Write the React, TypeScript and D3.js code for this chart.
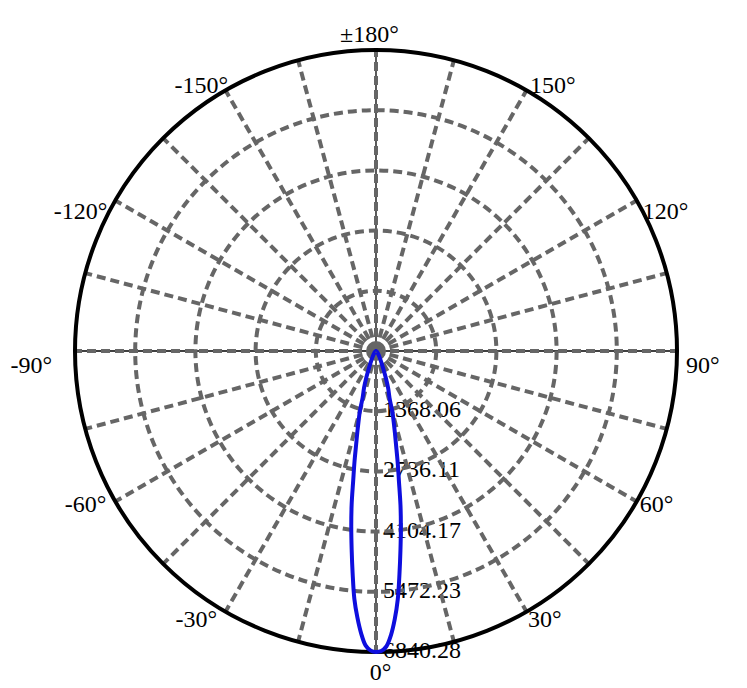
import { useEffect, useRef } from "react";
import * as d3 from "d3";

// ring values (cd) shown along the 0° spoke
const ringValues = [1368.06, 2736.11, 4104.17, 5472.23, 6840.28];
const ringLabels = ["1368.06", "2736.11", "4104.17", "5472.23", "6840.28"];

// angle ticks (0° at the bottom, positive to the right)
const angleTicks = [0, 30, 60, 90, 120, 150, 180, -150, -120, -90, -60, -30];
const angleTickLabels = ["0°", "30°", "60°", "90°", "120°", "150°", "±180°", "-150°", "-120°", "-90°", "-60°", "-30°"];
const spokeAngles = [0, 15, 30, 45, 60, 75, 90, 105, 120, 135, 150, 165, 180, 195, 210, 225, 240, 255, 270, 285, 300, 315, 330, 345];

// measured intensity curve
const curveAngles = [0, 1, 2, 3, 4, 5, 6, 7, 8, 9, 10, 11, 12, 13, 14, 15, 16, 18, 20, 22, 25, 30, 35, 40, 50, 60, 70, 80, 90, 100, 120, 150, 180];
const intensityRight = [6840, 6820, 6720, 6470, 6110, 5670, 5100, 4560, 4060, 3560, 3000, 2580, 2200, 1910, 1660, 1450, 1120, 900, 660, 460, 290, 160, 100, 65, 30, 15, 8, 4, 2, 1, 0, 0, 0];
const intensityLeft = [6840, 6810, 6700, 6430, 6070, 5650, 5080, 4540, 4040, 3540, 2980, 2560, 2170, 1880, 1630, 1420, 1100, 880, 650, 450, 285, 155, 95, 60, 28, 14, 7, 3, 2, 1, 0, 0, 0];

// label placement relative to the point on the outer circle: anchor, dx, dy
const tickPlacement: Record<string, [string, number, number]> = {
  "0": ["middle", 4.5, 28],
  "30": ["start", 1.5, 15],
  "60": ["start", 3, 10.5],
  "90": ["start", 9, 22],
  "120": ["start", 6, 18.5],
  "150": ["start", 3.5, 3],
  "180": ["middle", -6.5, -8],
  "-150": ["end", 2.5, 3],
  "-120": ["end", -8, 18.5],
  "-90": ["end", -23, 22],
  "-60": ["end", -9, 10.5],
  "-30": ["end", -8.5, 15],
};

const WIDTH = 747;
const HEIGHT = 688;
const CX = 376;
const CY = 351;
const R = 301;
const FONT = "'Liberation Serif', 'Times New Roman', serif";
const FONT_SIZE = 24;

export default function App() {
  const svgRef = useRef<SVGSVGElement>(null);

  useEffect(() => {
    if (!svgRef.current) return;
    const svg = d3.select(svgRef.current);
    svg.selectAll("*").remove();

    const maxVal = ringValues[ringValues.length - 1];
    const rScale = d3.scaleLinear().domain([0, maxVal]).range([0, R]);
    const rad = (deg: number) => (deg * Math.PI) / 180;
    // 0° points down, +90° points right
    const px = (deg: number, r: number) => CX + r * Math.sin(rad(deg));
    const py = (deg: number, r: number) => CY + r * Math.cos(rad(deg));

    const g = svg.append("g");

    // ring value labels (under the grid)
    g.selectAll("text.ring-label")
      .data(ringValues)
      .join("text")
      .attr("class", "ring-label")
      .attr("x", CX + 7)
      .attr("y", (d) => CY + rScale(d))
      .attr("dy", "0.25em")
      .attr("font-family", FONT)
      .attr("font-size", FONT_SIZE)
      .attr("fill", "#000")
      .text((_d, i) => ringLabels[i]);

    // angle labels
    g.selectAll("text.angle-label")
      .data(angleTicks)
      .join("text")
      .attr("class", "angle-label")
      .attr("x", (d) => px(d, R) + tickPlacement[String(d)][1])
      .attr("y", (d) => py(d, R) + tickPlacement[String(d)][2])
      .attr("text-anchor", (d) => tickPlacement[String(d)][0])
      .attr("font-family", FONT)
      .attr("font-size", FONT_SIZE)
      .attr("fill", "#000")
      .text((_d, i) => angleTickLabels[i]);

    // thin black main axes
    [0, 90].forEach((a) => {
      g.append("line")
        .attr("x1", px(a, R))
        .attr("y1", py(a, R))
        .attr("x2", px(a + 180, R))
        .attr("y2", py(a + 180, R))
        .attr("stroke", "#000")
        .attr("stroke-width", 1.3);
    });

    // dashed rings
    g.selectAll("circle.ring")
      .data(ringValues.slice(0, -1))
      .join("circle")
      .attr("class", "ring")
      .attr("cx", CX)
      .attr("cy", CY)
      .attr("r", (d) => rScale(d))
      .attr("fill", "none")
      .attr("stroke", "#666")
      .attr("stroke-width", 4)
      .attr("stroke-dasharray", "9,5");

    // dashed spokes
    g.selectAll("line.spoke")
      .data(spokeAngles)
      .join("line")
      .attr("class", "spoke")
      .attr("x1", CX)
      .attr("y1", CY)
      .attr("x2", (d) => px(d, R))
      .attr("y2", (d) => py(d, R))
      .attr("stroke", "#666")
      .attr("stroke-width", 4)
      .attr("stroke-dasharray", "9,5");

    g.append("circle")
      .attr("cx", CX)
      .attr("cy", CY)
      .attr("r", 10)
      .attr("fill", "#666");

    // outer circle
    g.append("circle")
      .attr("cx", CX)
      .attr("cy", CY)
      .attr("r", R)
      .attr("fill", "none")
      .attr("stroke", "#000")
      .attr("stroke-width", 4);

    // intensity curve, from -180° through 0° to +180°
    const pts: [number, number][] = [];
    for (let i = curveAngles.length - 1; i > 0; i--) pts.push([-curveAngles[i], intensityLeft[i]]);
    for (let i = 0; i < curveAngles.length; i++) pts.push([curveAngles[i], intensityRight[i]]);

    const line = d3
      .lineRadial<[number, number]>()
      .angle((d) => Math.PI - rad(d[0]))
      .radius((d) => rScale(d[1]))
      .curve(d3.curveCatmullRom);

    g.append("path")
      .attr("transform", `translate(${CX},${CY})`)
      .attr("d", line(pts))
      .attr("fill", "none")
      .attr("stroke", "#0e0ede")
      .attr("stroke-width", 4)
      .attr("stroke-linejoin", "round");
  }, []);

  return (
    <svg
      ref={svgRef}
      width={WIDTH}
      height={HEIGHT}
      style={{ position: "absolute", left: 0, top: 0, background: "#fff" }}
    />
  );
}
